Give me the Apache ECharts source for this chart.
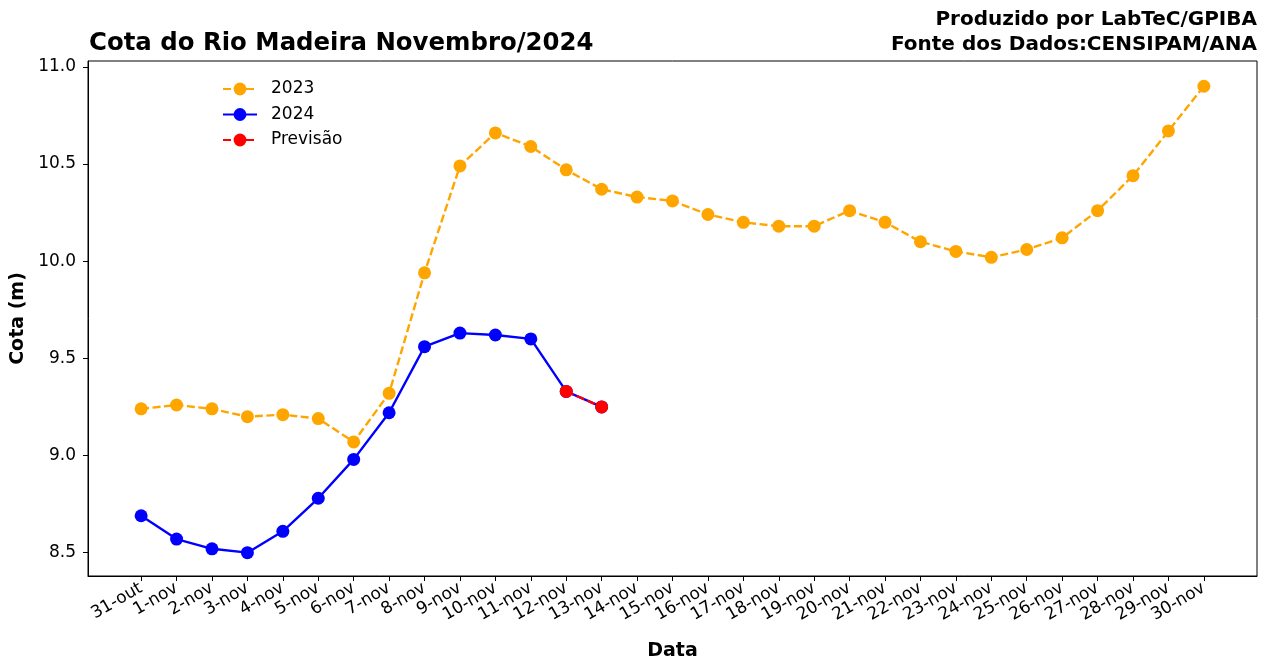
<!DOCTYPE html>
<html>
<head>
<meta charset="utf-8">
<script src="https://cdn.jsdelivr.net/npm/echarts@6/dist/echarts.min.js"></script>
<style>
  html, body { margin: 0; padding: 0; background: #fff; }
  #main { width: 1267px; height: 659px; }
</style>
</head>
<body>
<div id="main"></div>
<script>
var dias = ['31-out', '1-nov', '2-nov', '3-nov', '4-nov', '5-nov', '6-nov', '7-nov', '8-nov', '9-nov',
    '10-nov', '11-nov', '12-nov', '13-nov', '14-nov', '15-nov', '16-nov', '17-nov', '18-nov', '19-nov',
    '20-nov', '21-nov', '22-nov', '23-nov', '24-nov', '25-nov', '26-nov', '27-nov', '28-nov', '29-nov', '30-nov'];

var cota2023 = [9.24, 9.26, 9.24, 9.20, 9.21, 9.19, 9.07, 9.32, 9.94, 10.49,
    10.66, 10.59, 10.47, 10.37, 10.33, 10.31, 10.24, 10.20, 10.18, 10.18,
    10.26, 10.20, 10.10, 10.05, 10.02, 10.06, 10.12, 10.26, 10.44, 10.67, 10.90];

var cota2024 = [8.69, 8.57, 8.52, 8.50, 8.61, 8.78, 8.98, 9.22, 9.56, 9.63,
    9.62, 9.60, 9.33, 9.25];

// previsao: dias 12-nov e 13-nov
var previsaoInicio = 12;
var previsao = [9.33, 9.25];

var yTicks = [8.5, 9.0, 9.5, 10.0, 10.5, 11.0];

var fonte = 'DejaVu Sans';

function pares(valores, inicio) {
    return valores.map(function (v, i) { return [inicio + i, v]; });
}

var idx = dias.map(function (d, i) { return i; });

var creditoStyle = { fontFamily: fonte, fontSize: 20, fontWeight: 'bold', fill: '#000' };

var option = {
    animation: false,
    backgroundColor: '#fff',
    textStyle: { fontFamily: fonte },
    title: {
        text: 'Cota do Rio Madeira Novembro/2024',
        left: 89,
        top: 32,
        padding: 0,
        textStyle: { fontFamily: fonte, fontSize: 24.4, fontWeight: 'bold', color: '#000' }
    },
    graphic: [{
        type: 'text',
        right: 10,
        top: 10,
        style: Object.assign({ text: 'Produzido por LabTeC/GPIBA' }, creditoStyle)
    }, {
        type: 'text',
        right: 10,
        top: 35,
        style: Object.assign({ text: 'Fonte dos Dados:CENSIPAM/ANA' }, creditoStyle)
    }],
    legend: {
        orient: 'vertical',
        left: 222,
        top: 80,
        padding: 0,
        itemWidth: 34,
        itemHeight: 16,
        itemGap: 7.5,
        textStyle: { fontFamily: fonte, fontSize: 17, color: '#000', lineHeight: 18, padding: [0, 0, 0, 9] },
        data: ['2023', '2024', 'Previsão']
    },
    grid: {
        left: 88, top: 61, width: 1169, height: 515,
        outerBoundsMode: 'none',
        show: true, borderColor: '#000', borderWidth: 1, backgroundColor: 'transparent'
    },
    xAxis: {
        type: 'value',
        min: -1.5,
        max: 31.5,
        name: 'Data',
        nameLocation: 'middle',
        nameGap: 66,
        nameTextStyle: { fontFamily: fonte, fontSize: 19, fontWeight: 'bold', color: '#000' },
        splitLine: { show: false },
        axisLine: { show: true, onZero: false, lineStyle: { color: '#000', width: 1 } },
        axisTick: { show: true, length: 5, customValues: idx, lineStyle: { color: '#000', width: 1 } },
        axisLabel: {
            customValues: idx,
            rotate: 30,
            margin: 11,
            fontFamily: fonte, fontSize: 17, color: '#000',
            formatter: function (v) { return dias[Math.round(v)]; }
        }
    },
    yAxis: {
        type: 'value',
        min: 8.38,
        max: 11.03,
        name: 'Cota (m)',
        nameLocation: 'middle',
        nameGap: 58,
        nameTextStyle: { fontFamily: fonte, fontSize: 19, fontWeight: 'bold', color: '#000' },
        splitLine: { show: false },
        axisLine: { show: true, onZero: false, lineStyle: { color: '#000', width: 1 } },
        axisTick: { show: true, length: 5, customValues: yTicks, lineStyle: { color: '#000', width: 1 } },
        axisLabel: {
            customValues: yTicks,
            margin: 12,
            fontFamily: fonte, fontSize: 17, color: '#000',
            formatter: function (v) { return v.toFixed(1); }
        }
    },
    series: [{
        name: '2023',
        type: 'line',
        data: pares(cota2023, 0),
        symbol: 'circle',
        symbolSize: 13,
        itemStyle: { color: '#FFA500' },
        lineStyle: { color: '#FFA500', width: 2.4, type: [8, 3.5] },
        z: 2
    }, {
        name: '2024',
        type: 'line',
        data: pares(cota2024, 0),
        symbol: 'circle',
        symbolSize: 13,
        itemStyle: { color: '#0000FF' },
        lineStyle: { color: '#0000FF', width: 2.4 },
        z: 3
    }, {
        name: 'Previsão',
        type: 'line',
        data: pares(previsao, previsaoInicio),
        symbol: 'circle',
        symbolSize: 13,
        itemStyle: { color: '#FF0000' },
        lineStyle: { color: '#FF0000', width: 2.4, type: [8, 3.5] },
        z: 4
    }]
};

echarts.init(document.getElementById('main')).setOption(option);
</script>
</body>
</html>
